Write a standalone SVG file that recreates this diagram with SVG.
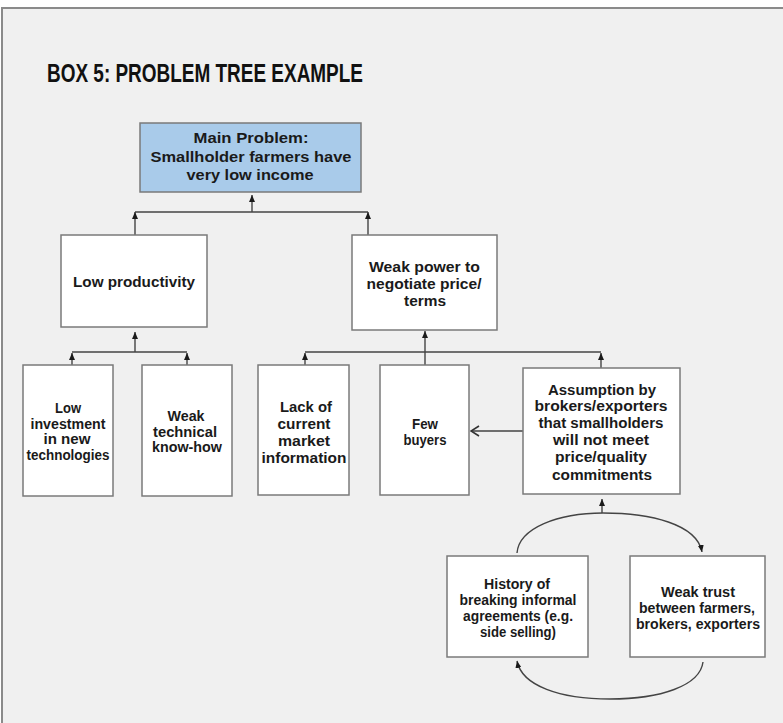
<svg xmlns="http://www.w3.org/2000/svg" width="783" height="723" viewBox="0 0 783 723">
<defs>
<style>
.box{fill:#fff;stroke:#7a7a7a;stroke-width:1.5}
.main{fill:#a9cbea;stroke:#7a7a7a;stroke-width:1.5}
.t{font-family:"Liberation Sans",Arial,sans-serif;font-weight:bold;font-size:14.5px;fill:#1a1a1a;text-anchor:middle}
.c{fill:none;stroke:#444;stroke-width:1.4}
</style>
<marker id="ah" markerWidth="7" markerHeight="6" refX="7" refY="3" orient="auto" markerUnits="userSpaceOnUse"><path d="M0,0 L7,3 L0,6 z" fill="#1a1a1a"/></marker>
<marker id="oh" markerWidth="10" markerHeight="12" refX="9" refY="6" orient="auto" markerUnits="userSpaceOnUse"><path d="M1,1 L9,6 L1,11" fill="none" stroke="#333" stroke-width="1.6"/></marker>
</defs>
<rect x="0" y="0" width="783" height="723" fill="#fff"/>
<rect x="2" y="8" width="790" height="725" fill="#f0f0f0" stroke="#8a8a8a" stroke-width="2"/>
<text x="47" y="82" font-family="Liberation Sans,Arial,sans-serif" font-weight="bold" font-size="26" fill="#111" textLength="316" lengthAdjust="spacingAndGlyphs">BOX 5: PROBLEM TREE EXAMPLE</text>

<g id="connectors">
<line class="c" x1="252" y1="212" x2="252" y2="195" marker-end="url(#ah)"/>
<line class="c" x1="135" y1="212" x2="368" y2="212"/>
<line class="c" x1="135" y1="235" x2="135" y2="212" marker-end="url(#ah)"/>
<line class="c" x1="368" y1="235" x2="368" y2="212" marker-end="url(#ah)"/>
<line class="c" x1="135" y1="352" x2="135" y2="332" marker-end="url(#ah)"/>
<line class="c" x1="72" y1="352" x2="187" y2="352"/>
<line class="c" x1="72" y1="365" x2="72" y2="353" marker-end="url(#ah)"/>
<line class="c" x1="187" y1="365" x2="187" y2="353" marker-end="url(#ah)"/>
<line class="c" x1="425" y1="352" x2="425" y2="331" marker-end="url(#ah)"/>
<line class="c" x1="305" y1="352" x2="601" y2="352"/>
<line class="c" x1="305" y1="365" x2="305" y2="353" marker-end="url(#ah)"/>
<line class="c" x1="601" y1="368" x2="601" y2="353" marker-end="url(#ah)"/>
<line class="c" x1="425" y1="365" x2="425" y2="352"/>
<line class="c" x1="523" y1="431" x2="471" y2="431" marker-end="url(#oh)"/>
<path class="c" d="M517,553 C519,528 558,513 603,513 C650,513 697,524 702,552" marker-end="url(#ah)"/>
<path class="c" d="M703,662 C700,686 660,699 610,699 C560,699 522,686 517,661" marker-end="url(#ah)"/>
<line class="c" x1="602" y1="513" x2="602" y2="499" marker-end="url(#ah)"/>
</g>

<g id="main-problem">
<rect class="main" x="140" y="123" width="221" height="69"/>
<text class="t" x="251" y="143" textLength="115" lengthAdjust="spacingAndGlyphs">Main Problem:</text>
<text class="t" x="251" y="162" textLength="201" lengthAdjust="spacingAndGlyphs">Smallholder farmers have</text>
<text class="t" x="250" y="180" textLength="127" lengthAdjust="spacingAndGlyphs">very low income</text>
</g>

<g id="low-productivity">
<rect class="box" x="61" y="235" width="146" height="92"/>
<text class="t" x="134" y="287" textLength="122" lengthAdjust="spacingAndGlyphs">Low productivity</text>
</g>

<g id="weak-power">
<rect class="box" x="352" y="235" width="145" height="95"/>
<text class="t" x="424.5" y="272" textLength="111" lengthAdjust="spacingAndGlyphs">Weak power to</text>
<text class="t" x="424" y="289" textLength="115" lengthAdjust="spacingAndGlyphs">negotiate price/</text>
<text class="t" x="425" y="306" textLength="42" lengthAdjust="spacingAndGlyphs">terms</text>
</g>

<g id="low-investment">
<rect class="box" x="23" y="365" width="90" height="131"/>
<text class="t" x="68" y="413" textLength="26" lengthAdjust="spacingAndGlyphs">Low</text>
<text class="t" x="68" y="429" textLength="75" lengthAdjust="spacingAndGlyphs">investment</text>
<text class="t" x="67" y="444" textLength="47" lengthAdjust="spacingAndGlyphs">in new</text>
<text class="t" x="68" y="460" textLength="83" lengthAdjust="spacingAndGlyphs">technologies</text>
</g>

<g id="weak-technical">
<rect class="box" x="142" y="365" width="90" height="131"/>
<text class="t" x="186" y="421" textLength="37" lengthAdjust="spacingAndGlyphs">Weak</text>
<text class="t" x="185" y="437" textLength="64" lengthAdjust="spacingAndGlyphs">technical</text>
<text class="t" x="187" y="452" textLength="70" lengthAdjust="spacingAndGlyphs">know-how</text>
</g>

<g id="lack-of-info">
<rect class="box" x="258" y="365" width="91" height="130"/>
<text class="t" x="306" y="412" textLength="52" lengthAdjust="spacingAndGlyphs">Lack of</text>
<text class="t" x="304" y="429" textLength="53" lengthAdjust="spacingAndGlyphs">current</text>
<text class="t" x="304" y="446" textLength="52" lengthAdjust="spacingAndGlyphs">market</text>
<text class="t" x="304" y="463" textLength="85" lengthAdjust="spacingAndGlyphs">information</text>
</g>

<g id="few-buyers">
<rect class="box" x="380" y="365" width="89" height="130"/>
<text class="t" x="425" y="429" textLength="26" lengthAdjust="spacingAndGlyphs">Few</text>
<text class="t" x="425" y="445" textLength="43" lengthAdjust="spacingAndGlyphs">buyers</text>
</g>

<g id="assumption">
<rect class="box" x="523" y="368" width="157" height="126"/>
<text class="t" x="602" y="395" textLength="108" lengthAdjust="spacingAndGlyphs">Assumption by</text>
<text class="t" x="601" y="411" textLength="133" lengthAdjust="spacingAndGlyphs">brokers/exporters</text>
<text class="t" x="601" y="428" textLength="125" lengthAdjust="spacingAndGlyphs">that smallholders</text>
<text class="t" x="601" y="445" textLength="96" lengthAdjust="spacingAndGlyphs">will not meet</text>
<text class="t" x="601" y="462" textLength="92" lengthAdjust="spacingAndGlyphs">price/quality</text>
<text class="t" x="602" y="480" textLength="100" lengthAdjust="spacingAndGlyphs">commitments</text>
</g>

<g id="history">
<rect class="box" x="447" y="556" width="141" height="101"/>
<text class="t" x="517" y="589" textLength="66" lengthAdjust="spacingAndGlyphs">History of</text>
<text class="t" x="518" y="605" textLength="117" lengthAdjust="spacingAndGlyphs">breaking informal</text>
<text class="t" x="518" y="621" textLength="110" lengthAdjust="spacingAndGlyphs">agreements (e.g.</text>
<text class="t" x="518" y="637" textLength="76" lengthAdjust="spacingAndGlyphs">side selling)</text>
</g>

<g id="weak-trust">
<rect class="box" x="630" y="556" width="135" height="101"/>
<text class="t" x="698" y="597" textLength="74" lengthAdjust="spacingAndGlyphs">Weak trust</text>
<text class="t" x="697" y="613" textLength="116" lengthAdjust="spacingAndGlyphs">between farmers,</text>
<text class="t" x="698" y="629" textLength="124" lengthAdjust="spacingAndGlyphs">brokers, exporters</text>
</g>
</svg>
